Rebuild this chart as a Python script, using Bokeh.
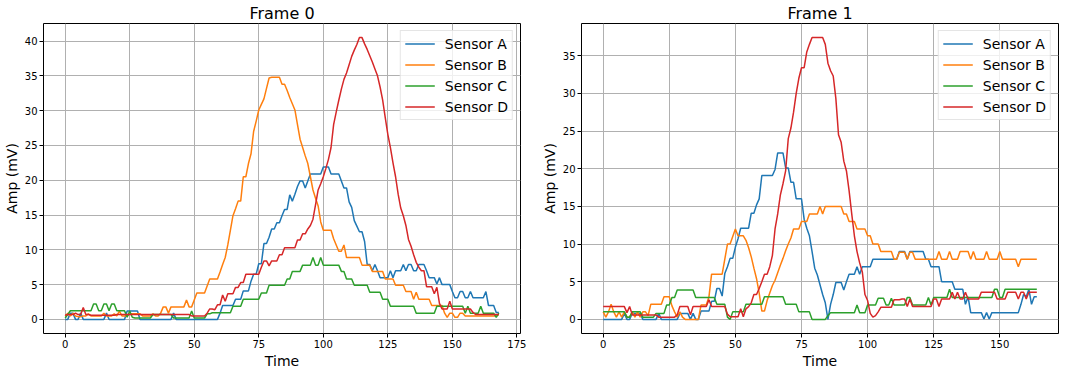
from bokeh.plotting import figure
from bokeh.layouts import row
from bokeh.models import Range1d, SingleIntervalTicker, Title
from bokeh.embed import file_html
from bokeh.resources import INLINE

names = ["Sensor A", "Sensor B", "Sensor C", "Sensor D"]
colors = ["#1f77b4", "#ff7f0e", "#2ca02c", "#d62728"]
titles = ["Frame 0", "Frame 1"]
x_label = "Time"
y_label = "Amp (mV)"

# ---------------- Frame 0 (t = 0..168) ----------------
f0_a = [0.0,0.0,0.9,0.9,0.0,0.0,0.9,0.0,0.0,0.0,
        0.0,0.0,0.0,0.0,0.0,0.0,0.9,0.0,0.0,0.0,
        0.0,0.0,0.0,0.0,1.2,1.2,1.2,1.2,1.2,0.0,
        0.0,0.0,0.0,0.0,0.0,0.0,0.0,0.0,0.0,0.0,
        0.0,0.0,0.9,0.0,0.0,0.0,0.0,0.0,0.0,0.0,
        0.0,0.0,0.0,0.0,0.0,0.0,0.0,0.0,0.0,0.0,
        0.9,2.0,2.0,2.0,2.0,2.0,2.9,2.9,2.9,4.1,
        4.1,4.1,5.5,6.5,6.5,8.0,8.0,10.9,10.9,11.8,
        13.0,13.0,13.9,13.9,14.9,15.8,15.8,17.9,17.0,18.0,
        19.1,19.9,19.9,18.9,19.9,20.9,20.9,20.9,20.9,20.9,
        21.9,21.9,21.9,20.9,20.9,20.9,20.9,19.9,18.9,18.9,
        16.9,16.1,14.2,13.4,12.6,12.6,11.2,7.9,7.9,7.0,
        7.9,7.0,6.0,6.0,6.0,6.0,7.0,6.0,7.0,7.0,
        7.0,7.9,7.0,7.9,7.9,7.0,7.0,7.9,7.9,7.9,
        7.0,6.0,6.0,6.0,5.1,6.0,5.0,5.0,5.0,5.0,
        4.0,3.1,3.1,4.0,4.0,3.1,3.1,4.0,3.1,3.1,
        3.1,3.1,3.1,4.0,2.0,2.0,2.0,1.0,1.0]
f0_b = [0.5,0.9,0.5,0.9,0.5,0.4,0.4,0.5,0.5,0.8,
        0.5,0.5,0.5,0.5,0.5,0.9,0.5,0.5,0.5,0.8,
        0.5,1.2,0.5,0.5,0.5,0.8,0.8,0.8,0.8,0.8,
        0.5,0.5,0.5,0.5,0.8,0.5,0.5,0.9,1.8,1.8,
        0.9,1.8,1.8,1.8,1.8,1.8,1.8,2.8,1.8,1.8,
        2.8,3.8,3.8,3.8,3.8,4.8,5.8,5.8,5.8,5.8,
        6.8,7.9,8.9,10.7,12.8,14.9,15.9,17.0,17.0,20.5,
        20.5,22.4,23.8,27.0,28.5,30.1,30.9,31.7,33.2,34.7,
        34.8,34.8,34.8,34.8,33.8,33.8,32.9,31.9,31.0,30.1,
        28.0,25.9,24.7,23.5,22.4,20.5,18.6,17.4,16.3,14.0,
        12.8,12.8,12.8,12.8,11.6,10.7,9.8,9.8,10.7,8.9,
        8.9,8.9,8.9,8.9,8.9,7.8,7.8,7.8,7.8,6.9,
        6.9,6.9,6.9,6.9,5.8,5.8,5.8,5.8,4.9,4.9,
        4.9,4.9,4.0,4.0,4.0,2.9,3.9,2.9,2.9,2.9,
        2.9,2.9,2.0,2.0,2.0,2.0,2.0,0.9,0.3,0.9,
        0.9,0.3,0.3,0.9,0.9,0.5,0.5,0.5,0.5,0.5,
        0.5,0.5,0.5,0.5,0.5,0.5,0.5,0.5,0.7]
f0_c = [0.2,0.7,1.25,1.25,1.25,1.25,1.25,1.25,1.25,1.25,
        1.25,2.2,2.2,1.25,1.25,2.2,2.2,1.25,2.2,2.2,
        1.25,1.25,1.25,1.25,0.3,1.2,0.3,0.2,0.2,0.2,
        0.2,0.2,0.2,0.2,0.7,0.7,0.7,0.7,0.7,0.7,
        0.7,0.7,0.2,0.2,0.2,0.2,0.2,0.2,0.2,1.2,
        0.2,0.2,0.2,0.2,0.2,0.8,0.8,0.95,0.95,0.95,
        0.95,0.95,0.95,0.95,0.95,1.9,1.9,1.9,1.9,2.9,
        2.9,2.9,2.9,2.9,2.9,2.9,3.8,3.8,3.8,4.9,
        4.9,4.9,4.9,4.9,4.9,4.9,5.8,5.8,6.9,6.9,
        6.9,6.9,7.8,7.8,7.8,7.8,8.9,7.8,7.8,8.9,
        7.8,7.8,7.8,7.8,7.8,7.8,7.8,6.9,6.9,5.8,
        5.8,5.8,4.9,4.9,4.9,4.9,4.9,4.9,3.9,3.9,
        3.9,3.9,3.9,2.9,2.9,2.9,1.9,1.9,1.9,1.9,
        1.9,1.9,1.9,1.9,1.9,1.9,0.9,0.9,0.9,0.9,
        0.9,0.9,0.9,0.9,1.9,1.9,1.9,1.9,1.9,1.9,
        1.9,1.9,1.9,1.9,1.9,0.9,1.9,0.9,0.9,0.9,
        0.9,1.9,0.9,0.9,0.9,0.9,0.9,0.3,0.9]
f0_d = [0.6,0.7,0.7,0.7,0.9,0.7,0.7,1.7,0.7,0.7,
        0.6,0.6,0.6,0.6,0.6,0.6,0.6,0.6,0.6,0.6,
        0.7,0.7,0.7,0.7,0.7,0.7,0.7,0.7,0.7,0.7,
        0.7,0.7,0.7,0.7,0.7,0.7,0.7,0.7,0.7,0.7,
        0.7,0.7,0.7,0.7,0.7,0.7,0.7,0.7,0.7,0.5,
        0.5,0.5,0.5,0.5,0.5,0.9,1.5,1.5,1.4,2.1,
        2.1,3.5,2.6,3.7,3.7,3.7,4.6,4.6,5.3,5.3,
        6.5,6.5,6.5,6.5,6.5,6.5,7.5,8.4,8.4,7.7,
        8.4,8.4,8.4,9.3,9.3,10.3,10.3,10.3,10.3,10.3,
        11.4,11.4,12.3,12.3,13.0,13.5,14.4,16.5,18.6,19.5,
        20.5,21.7,23.0,24.7,28.0,29.8,31.5,33.1,34.5,35.4,
        36.6,37.8,38.7,39.5,40.5,40.5,39.6,38.8,37.9,37.0,
        36.0,35.0,33.4,31.5,29.0,26.6,24.7,22.5,20.5,18.0,
        16.0,14.9,13.5,11.5,10.5,9.3,8.2,7.5,7.0,7.0,
        4.7,4.7,4.7,3.7,4.6,2.3,1.5,1.5,1.5,2.6,
        1.5,1.5,1.5,1.5,1.5,1.5,1.5,1.5,1.0,0.7,
        0.7,0.7,0.7,0.7,0.7,0.7,0.7,0.7,0.7]

# ---------------- Frame 1 (t = 0..164) ----------------
f1_a = [0,0,0,0,0,0,0,0,0.8,0,
        0,0.8,0.8,0.8,0.8,0,0,0,0,0,
        0,0.8,0,0,0,0,0,0,0,0.8,
        0.8,0.8,0.8,0,0.8,0,0,1.1,1.1,1.1,
        1.1,2.4,2.4,4.1,4.1,3.1,6.1,7.0,8.1,8.1,
        9.6,10.7,12.1,12.1,12.1,12.1,14.1,14.1,15.2,16.0,
        19.1,19.1,19.1,19.1,19.1,19.9,22.1,22.1,22.1,20.1,
        20.1,18.2,18.2,16.0,16.0,16.0,13.3,12.1,11.1,9.0,
        6.8,5.9,4.6,3.3,2.2,0.0,2.0,3.3,4.9,4.9,
        4.9,3.9,5.0,6.0,6.0,6.0,7.0,6.0,7.0,7.0,
        7.0,7.0,8.0,8.0,8.0,8.0,8.0,8.0,8.0,8.0,
        8.0,8.0,9.0,9.0,9.0,8.0,9.0,9.0,9.0,9.0,
        9.0,9.0,8.0,8.0,7.0,7.0,7.0,7.0,5.0,5.0,
        5.0,5.0,5.0,4.0,4.0,4.0,4.0,2.0,3.0,0.9,
        0.9,0.9,0.9,0.9,0.05,0.9,0.05,0.9,0.9,0.9,
        0.9,0.9,0.9,0.9,0.9,0.9,0.9,0.9,2.0,3.3,
        3.0,4.0,2.0,3.0,3.0]
f1_b = [1.0,0.3,1.0,2.0,1.0,0.3,1.0,0.3,1.0,0.3,
        0.3,1.0,0.3,1.0,0.3,1.0,1.0,0.5,2.0,2.0,
        2.0,2.0,2.0,3.0,3.0,3.0,1.8,1.0,0.3,1.0,
        0.3,0.0,0.0,0.0,0.0,0.0,0.0,1.9,1.9,1.9,
        3.0,6.0,6.0,6.0,6.0,6.0,8.0,10.0,10.0,11.0,
        12.0,11.1,11.1,11.1,10.5,9.5,8.3,6.8,5.4,3.5,
        1.1,1.1,2.5,3.5,4.5,5.2,6.2,7.2,8.1,9.1,
        10.0,10.8,12.0,12.0,12.0,13.0,13.0,13.0,14.0,14.0,
        14.0,14.0,15.0,14.0,15.0,15.0,15.0,15.0,15.0,15.0,
        15.0,14.0,14.0,13.0,13.0,13.0,12.0,12.0,12.0,12.0,
        11.1,11.1,10.0,10.0,10.0,9.0,9.0,9.0,9.0,9.0,
        8.0,8.0,8.9,8.9,8.9,8.0,8.9,8.9,8.0,8.0,
        8.0,8.0,8.0,8.0,8.0,8.0,8.0,9.0,8.0,8.0,
        8.0,9.0,8.0,8.0,8.0,9.0,9.0,9.0,9.0,8.0,
        9.0,8.0,8.0,8.0,8.0,9.0,8.0,8.0,8.0,8.0,
        9.0,8.0,8.0,8.0,8.0,8.0,8.0,7.0,8.0,8.0,
        8.0,8.0,8.0,8.0,8.0]
f1_c = [1.0,1.0,1.0,1.0,1.0,1.0,1.0,1.0,1.0,0.3,
        0.3,1.0,1.0,1.0,1.0,0.3,0.3,0.3,0.3,0.3,
        0.8,0.8,0.8,0.8,1.9,1.9,2.9,2.9,3.9,3.9,
        3.9,3.9,3.9,3.9,3.9,2.9,2.9,2.9,2.9,2.9,
        2.9,2.9,2.9,2.0,2.0,2.0,2.0,0.3,0.0,1.0,
        1.0,1.0,1.0,1.0,2.0,2.0,2.0,2.0,2.0,2.0,
        2.0,3.0,3.0,3.0,3.0,3.0,3.0,3.0,3.0,2.0,
        2.0,2.0,2.0,2.0,1.0,1.0,1.0,1.0,1.0,0.0,
        0.0,0.0,0.0,0.0,0.0,0.5,0.9,0.9,0.9,0.9,
        0.9,0.9,0.9,0.9,0.9,0.9,1.9,0.9,0.9,0.9,
        1.9,1.9,1.9,1.9,2.8,2.8,2.8,1.9,1.9,2.8,
        1.9,1.9,1.9,1.9,1.9,2.9,2.9,1.9,1.9,1.9,
        1.9,1.9,1.9,2.9,1.9,2.9,2.9,2.9,2.9,2.9,
        2.9,4.0,2.9,2.9,2.9,2.9,2.9,2.9,2.9,2.9,
        2.9,2.9,2.9,2.9,2.9,2.9,2.9,2.9,4.0,4.0,
        2.9,2.9,4.0,4.0,4.0,4.0,4.0,4.0,4.0,4.0,
        4.0,4.0,4.0,4.0,4.0]
f1_d = [1.7,1.7,1.7,1.7,1.7,1.7,1.7,1.7,1.7,0.9,
        1.7,0.6,0.6,0.6,0.6,0.6,0.6,0.6,0.6,0.6,
        0.6,0.3,0.3,0.3,0.3,0.3,0.3,0.3,0.6,1.7,
        1.7,1.7,1.7,0.6,1.7,1.7,1.7,1.7,1.7,1.7,
        2.6,1.7,1.7,1.7,1.7,1.7,1.7,0.7,0.35,0.35,
        0.35,0.35,1.4,0.35,1.4,1.7,2.2,3.3,3.3,4.1,
        5.0,6.0,6.0,7.0,8.5,12.0,14.0,16.5,18.0,19.7,
        24.0,25.4,27.5,30.0,32.0,33.4,33.4,35.5,36.5,37.4,
        37.4,37.4,37.4,37.4,36.5,34.0,33.0,32.3,29.3,24.5,
        23.5,21.0,19.7,17.1,14.0,11.1,9.0,7.5,6.3,3.3,
        2.5,0.8,0.3,0.5,1.0,1.6,1.6,1.6,1.6,1.6,
        2.6,2.6,2.6,2.7,2.7,1.7,2.7,1.7,1.7,1.7,
        1.7,1.7,1.7,1.7,1.7,2.7,2.7,1.7,2.7,2.7,
        2.7,2.7,3.6,2.7,3.6,2.7,2.7,3.6,2.7,2.7,
        2.7,2.7,2.7,3.6,3.6,3.6,3.6,3.6,3.6,2.7,
        2.7,2.7,2.7,3.6,3.6,3.6,3.6,2.7,3.6,3.6,
        2.7,3.6,3.6,3.6,3.6]

frames = [[f0_a, f0_b, f0_c, f0_d], [f1_a, f1_b, f1_c, f1_d]]

FONT = "DejaVu Sans"


def make(title, series, width, bl, br):
    n = len(series[0])
    t = list(range(n))
    xmax = n - 1
    ymax = max(max(s) for s in series)
    ymin = min(min(s) for s in series)
    dy = ymax - ymin
    p = figure(width=width, height=368, output_backend="svg", toolbar_location=None,
               x_range=Range1d(-0.05 * xmax, xmax * 1.05),
               y_range=Range1d(ymin - 0.05 * dy, ymax + 0.05 * dy),
               min_border_left=bl, min_border_right=br, min_border_top=17, min_border_bottom=0,
               background_fill_color="white", border_fill_color="white")
    p.title.text = title
    p.title.align = "center"
    p.title.text_font = FONT
    p.title.text_font_size = "16px"
    p.title.text_font_style = "normal"
    p.title.text_color = "black"
    p.title.standoff = 2
    p.title.offset = 0
    for s, c, nm in zip(series, colors, names):
        p.line(t, s, line_color=c, line_width=1.5, legend_label=nm)
    p.xaxis.ticker = SingleIntervalTicker(interval=25, num_minor_ticks=0)
    p.yaxis.ticker = SingleIntervalTicker(interval=5, num_minor_ticks=0)
    p.yaxis.axis_label = y_label
    for ax in (p.xaxis, p.yaxis):
        ax.axis_label_text_font = FONT
        ax.axis_label_text_font_size = "14px"
        ax.axis_label_text_font_style = "normal"
        ax.axis_label_text_color = "black"
        ax.axis_label_standoff = 2
        ax.major_label_text_font = FONT
        ax.major_label_text_font_size = "10px"
        ax.major_label_text_color = "black"
        ax.major_label_standoff = 2
        ax.major_tick_out = 4
        ax.major_tick_in = 0
        ax.major_tick_line_color = "black"
        ax.minor_tick_line_color = None
        ax.axis_line_color = None
    xt = Title(text=x_label, align="center", text_font=FONT, text_font_size="14px",
               text_font_style="normal", text_color="black", standoff=0, offset=0)
    p.add_layout(xt, "below")
    p.grid.grid_line_color = "#b0b0b0"
    p.grid.grid_line_width = 1
    p.outline_line_color = "black"
    p.outline_line_width = 1
    p.outline_line_alpha = 1
    lg = p.legend[0]
    lg.location = "top_right"
    lg.label_text_font = FONT
    lg.label_text_font_size = "14px"
    lg.label_text_color = "black"
    lg.glyph_width = 30
    lg.glyph_height = 17
    lg.label_height = 17
    lg.label_standoff = 10
    lg.spacing = 4
    lg.padding = 4
    lg.margin = 7
    lg.border_line_color = "#cccccc"
    lg.border_line_width = 1
    lg.background_fill_alpha = 0.8
    return p


p0 = make(titles[0], frames[0], 538, 37, 18)
p1 = make(titles[1], frames[1], 524, 37, 4)
layout = row(p0, p1)

open("out.html", "w").write(file_html(layout, INLINE))
